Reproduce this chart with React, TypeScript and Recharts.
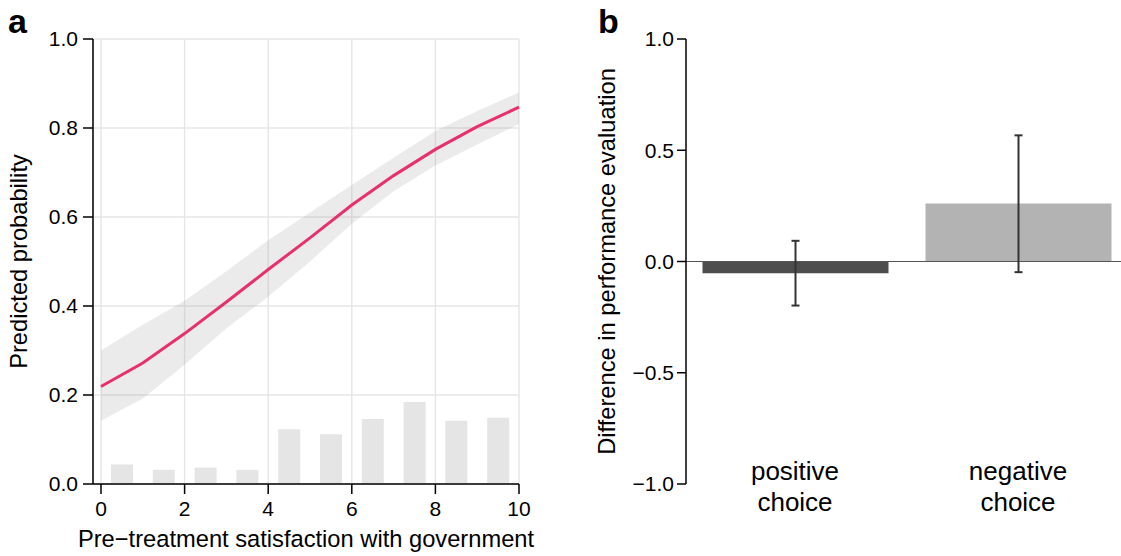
import React from 'react';
import {
  ComposedChart,
  Bar,
  Line,
  Area,
  XAxis,
  YAxis,
  CartesianGrid,
  ErrorBar,
  ReferenceLine,
  Cell,
  Label,
} from 'recharts';

const FONT = '"Liberation Sans", Arial, Helvetica, sans-serif';

// ---------- Panel a data ----------
const satisfactionLevels = [0, 1, 2, 3, 4, 5, 6, 7, 8, 9, 10];
const predictedProb = [0.219, 0.272, 0.338, 0.409, 0.482, 0.553, 0.627, 0.693, 0.752, 0.803, 0.847];
const probLower = [0.142, 0.192, 0.268, 0.35, 0.421, 0.5, 0.585, 0.658, 0.716, 0.763, 0.809];
const probUpper = [0.3, 0.358, 0.412, 0.478, 0.548, 0.61, 0.672, 0.733, 0.793, 0.838, 0.88];
const histCenters = [0.5, 1.5, 2.5, 3.5, 4.5, 5.5, 6.5, 7.5, 8.5, 9.5];
const histShares = [0.044, 0.032, 0.037, 0.032, 0.123, 0.112, 0.146, 0.184, 0.142, 0.149];
const xTicksA = [0, 2, 4, 6, 8, 10];
const yTicksA = [0, 0.2, 0.4, 0.6, 0.8, 1.0];
const histTicks = [0, 1, 2, 3, 4, 5, 6, 7, 8, 9, 10];

// ---------- Panel b data ----------
const choiceCategories = ['positive\nchoice', 'negative\nchoice'];
const choicePositions = [1, 2];
const diffValues = [-0.053, 0.261];
const diffLower = [-0.198, -0.048];
const diffUpper = [0.093, 0.567];
const barColors = ['#4d4d4d', '#b3b3b3'];
const yTicksB = [-1, -0.5, 0, 0.5, 1];

const curveData = satisfactionLevels.map((x, i) => ({
  x,
  p: predictedProb[i],
  band: [probLower[i], probUpper[i]],
}));
const histData = histCenters.map((x, i) => ({ x, share: histShares[i] }));
const choiceData = choicePositions.map((pos, i) => ({
  pos,
  name: choiceCategories[i],
  value: diffValues[i],
  err: [diffValues[i] - diffLower[i], diffUpper[i] - diffValues[i]],
}));

const tickStyle = { fontSize: 21, fontFamily: FONT, fill: '#000' };
const TITLE_SIZE = 23.7;

const vLabel = (text: string, dx: number) => (props: any) => {
  const vb = props.viewBox || {};
  const x = (vb.x ?? 0) + dx;
  const y = (vb.y ?? 0) + (vb.height ?? 0) / 2;
  return (
    <text
      x={x}
      y={y}
      transform={`rotate(-90, ${x}, ${y})`}
      textAnchor="middle"
      fontSize={TITLE_SIZE}
      fontFamily={FONT}
      fill="#000"
    >
      {text}
    </text>
  );
};

const hLabel = (text: string, dy: number) => (props: any) => {
  const vb = props.viewBox || {};
  const x = (vb.x ?? 0) + (vb.width ?? 0) / 2;
  const y = (vb.y ?? 0) + dy;
  return (
    <text x={x} y={y} textAnchor="middle" fontSize={TITLE_SIZE} fontFamily={FONT} fill="#000">
      {text}
    </text>
  );
};

const fmtA = (v: number) => v.toFixed(1);
const fmtB = (v: number) => (v < 0 ? '\u2212' + Math.abs(v).toFixed(1) : v.toFixed(1));

const TwoLineTick = (props: any) => {
  const { x, y, payload } = props;
  const idx = choicePositions.indexOf(payload.value);
  const lines = (idx >= 0 ? choiceCategories[idx] : '').split('\n');
  return (
    <text x={x} y={y} textAnchor="middle" fontSize={26} fontFamily={FONT} fill="#000">
      {lines.map((l, i) => (
        <tspan key={i} x={x} y={y - 4 + i * 31}>
          {l}
        </tspan>
      ))}
    </text>
  );
};

export default function App() {
  return (
    <div style={{ position: 'absolute', left: 0, top: 0, width: 1121, height: 556, background: '#fff' }}>
      <div style={{ position: 'absolute', left: 0, top: 0 }}>
        <ComposedChart
          width={560}
          height={556}
          data={histData}
          margin={{ top: 39, right: 41, bottom: 0, left: 0 }}
          style={{ fontFamily: FONT }}
        >
          <CartesianGrid stroke="#e6e6e6" strokeWidth={1.4} />
          <XAxis
            dataKey="x"
            type="number"
            domain={[0, 10]}
            ticks={xTicksA}
            padding={{ left: 8, right: 0 }}
            height={72}
            tickSize={10}
            tickMargin={7}
            tick={tickStyle}
            axisLine={{ stroke: '#000', strokeWidth: 1.5 }}
            tickLine={{ stroke: '#000', strokeWidth: 1.5 }}
          >
            <Label content={hLabel('Pre\u2212treatment satisfaction with government', 63)} />
          </XAxis>
          <XAxis
            xAxisId="hist"
            dataKey="x"
            type="number"
            domain={[0, 10]}
            ticks={histTicks}
            padding={{ left: 8, right: 0 }}
            hide
          />
          <YAxis
            type="number"
            domain={[0, 1]}
            ticks={yTicksA}
            tickFormatter={fmtA}
            width={93}
            tickSize={10}
            tickMargin={5}
            tick={tickStyle}
            axisLine={{ stroke: '#000', strokeWidth: 1.5 }}
            tickLine={{ stroke: '#000', strokeWidth: 1.5 }}
          >
            <Label content={vLabel('Predicted probability', 27)} />
          </YAxis>
          <Bar xAxisId="hist" dataKey="share" barSize={22} fill="#e5e5e5" isAnimationActive={false} />
          <Area
            data={curveData}
            dataKey="band"
            type="linear"
            stroke="none"
            fill="#999999"
            fillOpacity={0.2}
            isAnimationActive={false}
            dot={false}
            activeDot={false}
          />
          <Line
            data={curveData}
            dataKey="p"
            type="linear"
            stroke="#e8306d"
            strokeWidth={3}
            dot={false}
            activeDot={false}
            isAnimationActive={false}
          />
        </ComposedChart>
      </div>
      <div style={{ position: 'absolute', left: 560, top: 0 }}>
        <ComposedChart
          width={561}
          height={556}
          data={choiceData}
          margin={{ top: 39, right: 0, bottom: 0, left: 0 }}
          style={{ fontFamily: FONT }}
        >
          <XAxis
            dataKey="pos"
            type="number"
            domain={[1, 2]}
            ticks={choicePositions}
            padding={{ left: 109, right: 103 }}
            height={72}
            axisLine={false}
            tickLine={false}
            tickSize={0}
            tickMargin={0}
            tick={<TwoLineTick />}
          />
          <YAxis
            type="number"
            domain={[-1, 1]}
            ticks={yTicksB}
            tickFormatter={fmtB}
            width={126}
            tickSize={9}
            tickMargin={3}
            tick={tickStyle}
            axisLine={{ stroke: '#000', strokeWidth: 1.5 }}
            tickLine={{ stroke: '#000', strokeWidth: 1.5 }}
          >
            <Label content={vLabel('Difference in performance evaluation', 55)} />
          </YAxis>
          <ReferenceLine y={0} stroke="#555555" strokeWidth={1.2} />
          <Bar dataKey="value" barSize={186} isAnimationActive={false}>
            {choiceData.map((d, i) => (
              <Cell key={i} fill={barColors[i]} />
            ))}
            <ErrorBar dataKey="err" direction="y" width={4} stroke="#333333" strokeWidth={2} />
          </Bar>
        </ComposedChart>
      </div>
      <svg
        width={1121}
        height={556}
        style={{ position: 'absolute', left: 0, top: 0, pointerEvents: 'none' }}
      >
        <text x={8} y={33} fontSize={34} fontWeight="bold" fontFamily={FONT} fill="#000">
          a
        </text>
        <text x={598} y={33} fontSize={34} fontWeight="bold" fontFamily={FONT} fill="#000">
          b
        </text>
      </svg>
    </div>
  );
}
